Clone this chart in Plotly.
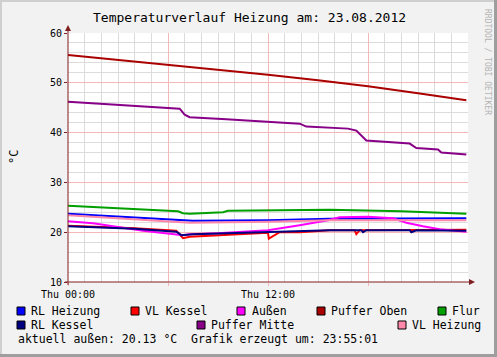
import plotly.graph_objects as go

# ---------------- data (hours since Thu 00:00, °C) ----------------
h_puffer_oben = [0, 3, 6, 9, 12, 15, 18, 21, 23.9]
v_puffer_oben = [55.6, 54.6, 53.7, 52.6, 51.6, 50.5, 49.3, 47.9, 46.5]

h_puffer_mitte = [0, 3, 6, 6.7, 7.0, 7.3, 9.5, 12, 13.9, 14.3, 16.8, 17.3, 17.6, 17.9, 20.5, 20.9, 22.2, 22.4, 23.9]
v_puffer_mitte = [46.2, 45.6, 45.0, 44.8, 43.6, 43.1, 42.7, 42.2, 41.8, 41.2, 40.8, 40.4, 39.5, 38.4, 37.8, 36.9, 36.6, 36.0, 35.6]

h_flur = [0, 6.6, 6.9, 7.3, 9.3, 9.6, 15.7, 20, 23.9]
v_flur = [25.3, 24.2, 23.8, 23.7, 24.0, 24.3, 24.5, 24.2, 23.7]

h_rl_heizung = [0, 7.5, 12, 15.7, 23.9]
v_rl_heizung = [23.7, 22.3, 22.4, 22.7, 22.8]

h_vl_heizung = [0, 7.3, 12, 15.7, 23.9]
v_vl_heizung = [23.4, 21.9, 22.1, 22.4, 22.4]

h_aussen = [0, 1.5, 4.5, 6, 6.9, 7.3, 9, 11, 12, 13.9, 15.6, 16.3, 18.0, 19.5, 20.3, 21.3, 22.3, 23.9]
v_aussen = [22.2, 21.8, 20.3, 19.8, 19.4, 19.6, 19.8, 20.2, 20.4, 21.4, 22.4, 23.0, 23.1, 22.8, 21.9, 21.2, 20.6, 20.1]

h_rl_kessel = [0, 4, 6.5, 6.8, 7.5, 12, 15.7, 17.6, 17.7, 17.9, 20.5, 20.6, 20.9, 23.9]
v_rl_kessel = [21.2, 20.7, 20.1, 19.4, 19.6, 20.1, 20.4, 20.4, 20.0, 20.4, 20.4, 20.0, 20.4, 20.3]

h_vl_kessel = [0, 4, 6.5, 6.9, 7.3, 10.9, 12, 12.05, 12.7, 13.9, 15.7, 17.2, 17.3, 17.5, 23.9]
v_vl_kessel = [21.3, 20.8, 20.3, 18.8, 19.1, 19.6, 19.9, 18.7, 20.0, 20.0, 20.4, 20.4, 19.6, 20.4, 20.5]

series = [
    ("RL Heizung", h_rl_heizung, v_rl_heizung, "#0000ff"),
    ("VL Kessel", h_vl_kessel, v_vl_kessel, "#ff0000"),
    ("Außen", h_aussen, v_aussen, "#ff00ff"),
    ("Puffer Oben", h_puffer_oben, v_puffer_oben, "#aa0000"),
    ("Flur", h_flur, v_flur, "#00a000"),
    ("RL Kessel", h_rl_kessel, v_rl_kessel, "#000080"),
    ("Puffer Mitte", h_puffer_mitte, v_puffer_mitte, "#880088"),
    ("VL Heizung", h_vl_heizung, v_vl_heizung, "#ff88aa"),
]

x_tickvals = [0, 6, 12, 18]
x_ticktext = ["Thu 00:00", "", "Thu 12:00", ""]
y_tickvals = [10, 20, 30, 40, 50, 60]

title_text = "Temperaturverlauf Heizung am: 23.08.2012"
footer_text = "aktuell außen: 20.13 °C  Grafik erzeugt um: 23:55:01"
side_text = "RRDTOOL / TOBI OETIKER"

# ---------------- layout helpers (pixel -> paper) ----------------
W, H = 497, 357
L, R, T, B = 68, 468, 33, 282
def px(x):
    return (x - L) / (R - L)
def py(y):
    return (B - y) / (B - T)

MONO = "DejaVu Sans Mono"

fig = go.Figure()
for name, hx, vy, col in series:
    fig.add_trace(go.Scatter(x=hx, y=vy, mode="lines", name=name,
                             line=dict(color=col, width=2), showlegend=False))

shapes = []
# frame shading
shapes.append(dict(type="rect", xref="paper", yref="paper", x0=px(0), x1=px(W), y0=py(0), y1=py(2),
                   fillcolor="#cfcfcf", line_width=0, layer="below"))
shapes.append(dict(type="rect", xref="paper", yref="paper", x0=px(0), x1=px(2), y0=py(0), y1=py(H),
                   fillcolor="#cfcfcf", line_width=0, layer="below"))
shapes.append(dict(type="rect", xref="paper", yref="paper", x0=px(W - 3), x1=px(W), y0=py(0), y1=py(H),
                   fillcolor="#9e9e9e", line_width=0, layer="below"))
shapes.append(dict(type="rect", xref="paper", yref="paper", x0=px(0), x1=px(W), y0=py(H - 3), y1=py(H),
                   fillcolor="#9e9e9e", line_width=0, layer="below"))
# axes + arrows
axc = "#7f1f1f"
shapes.append(dict(type="line", xref="paper", yref="paper", x0=px(L), x1=px(L), y0=py(B + 3), y1=py(29),
                   line=dict(color=axc, width=1)))
shapes.append(dict(type="line", xref="paper", yref="paper", x0=px(L - 3), x1=px(471), y0=py(B), y1=py(B),
                   line=dict(color=axc, width=1)))
shapes.append(dict(type="path", xref="paper", yref="paper",
                   path=f"M {px(L-3)} {py(31)} L {px(L+3)} {py(31)} L {px(L)} {py(25)} Z",
                   fillcolor=axc, line=dict(color=axc, width=0)))
shapes.append(dict(type="path", xref="paper", yref="paper",
                   path=f"M {px(469)} {py(B-3)} L {px(469)} {py(B+3)} L {px(475)} {py(B)} Z",
                   fillcolor=axc, line=dict(color=axc, width=0)))

annotations = []
# title
annotations.append(dict(text=title_text, xref="paper", yref="paper", x=px(249), y=py(17),
                        xanchor="center", yanchor="middle", showarrow=False,
                        font=dict(family=MONO, size=13, color="#000000")))
# side text
annotations.append(dict(text=side_text, xref="paper", yref="paper", x=px(488), y=py(62),
                        xanchor="center", yanchor="middle", textangle=90, showarrow=False,
                        font=dict(family=MONO, size=8, color="#b4b4b4")))
# y label
annotations.append(dict(text="°C", xref="paper", yref="paper", x=px(14), y=py(157),
                        xanchor="center", yanchor="middle", textangle=-90, showarrow=False,
                        font=dict(family=MONO, size=12, color="#000000")))

# legend
legend_pos = [
    (17, 30, 311), (131, 144, 311), (237, 251, 311), (317, 330, 311), (438, 451, 311),
    (17, 30, 325), (197, 210, 325), (398, 411, 325),
]
for (name, _, _, col), (sx, tx, cy) in zip(series, legend_pos):
    shapes.append(dict(type="rect", xref="paper", yref="paper",
                       x0=px(sx), x1=px(sx + 8), y0=py(cy - 4), y1=py(cy + 4),
                       fillcolor=col, line=dict(color="#000000", width=1)))
    annotations.append(dict(text=name, xref="paper", yref="paper", x=px(tx - 1), y=py(cy),
                            xanchor="left", yanchor="middle", showarrow=False,
                            font=dict(family=MONO, size=11.5, color="#000000")))
annotations.append(dict(text=footer_text, xref="paper", yref="paper", x=px(16), y=py(339),
                        xanchor="left", yanchor="middle", showarrow=False,
                        font=dict(family=MONO, size=11.5, color="#000000")))

fig.update_layout(
    width=W, height=H,
    margin=dict(l=L, r=W - R, t=T, b=H - B, pad=0),
    paper_bgcolor="#f2f2f2", plot_bgcolor="#ffffff",
    showlegend=False,
    shapes=shapes, annotations=annotations,
    font=dict(family=MONO, size=10, color="#000000"),
)
fig.update_xaxes(range=[0, 24], tickvals=x_tickvals, ticktext=x_ticktext,
                 showgrid=True, gridcolor="#f4b8b8", gridwidth=1,
                 ticks="outside", ticklen=3, tickcolor="#f4b8b8",
                 minor=dict(dtick=1, tick0=0, showgrid=True, gridcolor="#dcdcdc", ticks=""),
                 showline=False, zeroline=False, fixedrange=True,
                 tickfont=dict(family=MONO, size=10))
fig.update_yaxes(range=[10, 60], tickvals=y_tickvals,
                 showgrid=True, gridcolor="#f4b8b8", gridwidth=1,
                 ticks="outside", ticklen=3, tickcolor="#7f1f1f",
                 minor=dict(dtick=2, tick0=10, showgrid=True, gridcolor="#dcdcdc", ticks=""),
                 showline=False, zeroline=False, fixedrange=True,
                 tickfont=dict(family=MONO, size=10))

fig.write_html("out.html", config={"displayModeBar": False},
               post_script="document.body.style.margin='0';document.body.style.overflow='hidden';")
